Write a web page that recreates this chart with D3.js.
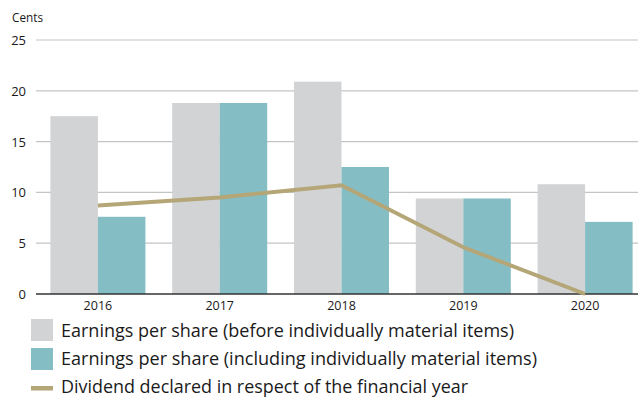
<!DOCTYPE html>
<html>
<head>
<meta charset="utf-8">
<script src="https://cdn.jsdelivr.net/npm/d3@7"></script>
<style>
  html, body { margin: 0; padding: 0; background: #fff; }
  svg { display: block; }
  text { font-family: "Open Sans", sans-serif; fill: #1a1a1a; }
</style>
</head>
<body>
<svg id="chart" width="638" height="398"></svg>
<script>
const years = ["2016", "2017", "2018", "2019", "2020"];
const epsBefore = [17.5, 18.8, 20.9, 9.4, 10.8];
const epsIncluding = [7.6, 18.8, 12.5, 9.4, 7.1];
const dividend = [8.7, 9.5, 10.7, 4.6, 0];
const yTicks = [0, 5, 10, 15, 20, 25];
const legendLabels = [
  "Earnings per share (before individually material items)",
  "Earnings per share (including individually material items)",
  "Dividend declared in respect of the financial year"
];

const colors = { before: "#d1d3d4", including: "#84bdc4", dividend: "#b5a678" };

const svg = d3.select("#chart");
const plot = { left: 36, right: 646, top: 40, bottom: 294 };

const x = d3.scaleBand().domain(years).range([plot.left + 1, plot.right])
  .paddingInner(0.22).paddingOuter(0.11);
const sub = d3.scaleBand().domain(["before", "including"]).range([0, x.bandwidth()]);
const y = d3.scaleLinear().domain([0, 25]).range([plot.bottom, plot.top]);

// gridlines
svg.append("g").selectAll("line").data(yTicks.filter(d => d > 0)).join("line")
  .attr("x1", plot.left).attr("x2", 638)
  .attr("y1", d => y(d)).attr("y2", d => y(d))
  .attr("stroke", "#c4c4c4").attr("stroke-width", 1.2);

// y tick labels
svg.append("g").selectAll("text").data(yTicks).join("text")
  .attr("x", 26).attr("y", d => y(d) + 5)
  .attr("text-anchor", "end").attr("font-size", 13)
  .text(d => d);

svg.append("text").attr("x", 12).attr("y", 22).attr("font-size", 13)
  .attr("textLength", 31).attr("lengthAdjust", "spacingAndGlyphs").text("Cents");

// bars
const groups = svg.append("g").selectAll("g").data(years).join("g")
  .attr("transform", d => `translate(${x(d)},0)`);
groups.append("rect")
  .attr("x", sub("before")).attr("width", sub.bandwidth())
  .attr("y", (d, i) => y(epsBefore[i])).attr("height", (d, i) => y(0) - y(epsBefore[i]))
  .attr("fill", colors.before);
groups.append("rect")
  .attr("x", sub("including")).attr("width", sub.bandwidth())
  .attr("y", (d, i) => y(epsIncluding[i])).attr("height", (d, i) => y(0) - y(epsIncluding[i]))
  .attr("fill", colors.including);

// baseline
svg.append("line").attr("x1", plot.left).attr("x2", 638)
  .attr("y1", y(0)).attr("y2", y(0)).attr("stroke", "#333").attr("stroke-width", 1.5);

// year labels
svg.append("g").selectAll("text").data(years).join("text")
  .attr("x", d => x(d) + x.bandwidth() / 2).attr("y", 310)
  .attr("text-anchor", "middle").attr("font-size", 12.5)
  .text(d => d);

// dividend line
const line = d3.line().x((d, i) => x(years[i]) + x.bandwidth() / 2).y(d => y(d));
svg.append("path").datum(dividend).attr("d", line)
  .attr("fill", "none").attr("stroke", colors.dividend).attr("stroke-width", 4);

// legend
const legend = svg.append("g");
const rowY = [337, 365, 393];
const rowW = [453, 476, 407];
legend.append("rect").attr("x", 31).attr("y", 319).attr("width", 22).attr("height", 22).attr("fill", colors.before);
legend.append("rect").attr("x", 31).attr("y", 348).attr("width", 22).attr("height", 22).attr("fill", colors.including);
legend.append("rect").attr("x", 31).attr("y", 386).attr("width", 22).attr("height", 4.5).attr("fill", colors.dividend);
legend.selectAll("text.lg").data(legendLabels).join("text").attr("class", "lg")
  .attr("x", 61).attr("y", (d, i) => rowY[i]).attr("font-size", 19)
  .attr("textLength", (d, i) => rowW[i]).attr("lengthAdjust", "spacingAndGlyphs")
  .text(d => d);
</script>
</body>
</html>
